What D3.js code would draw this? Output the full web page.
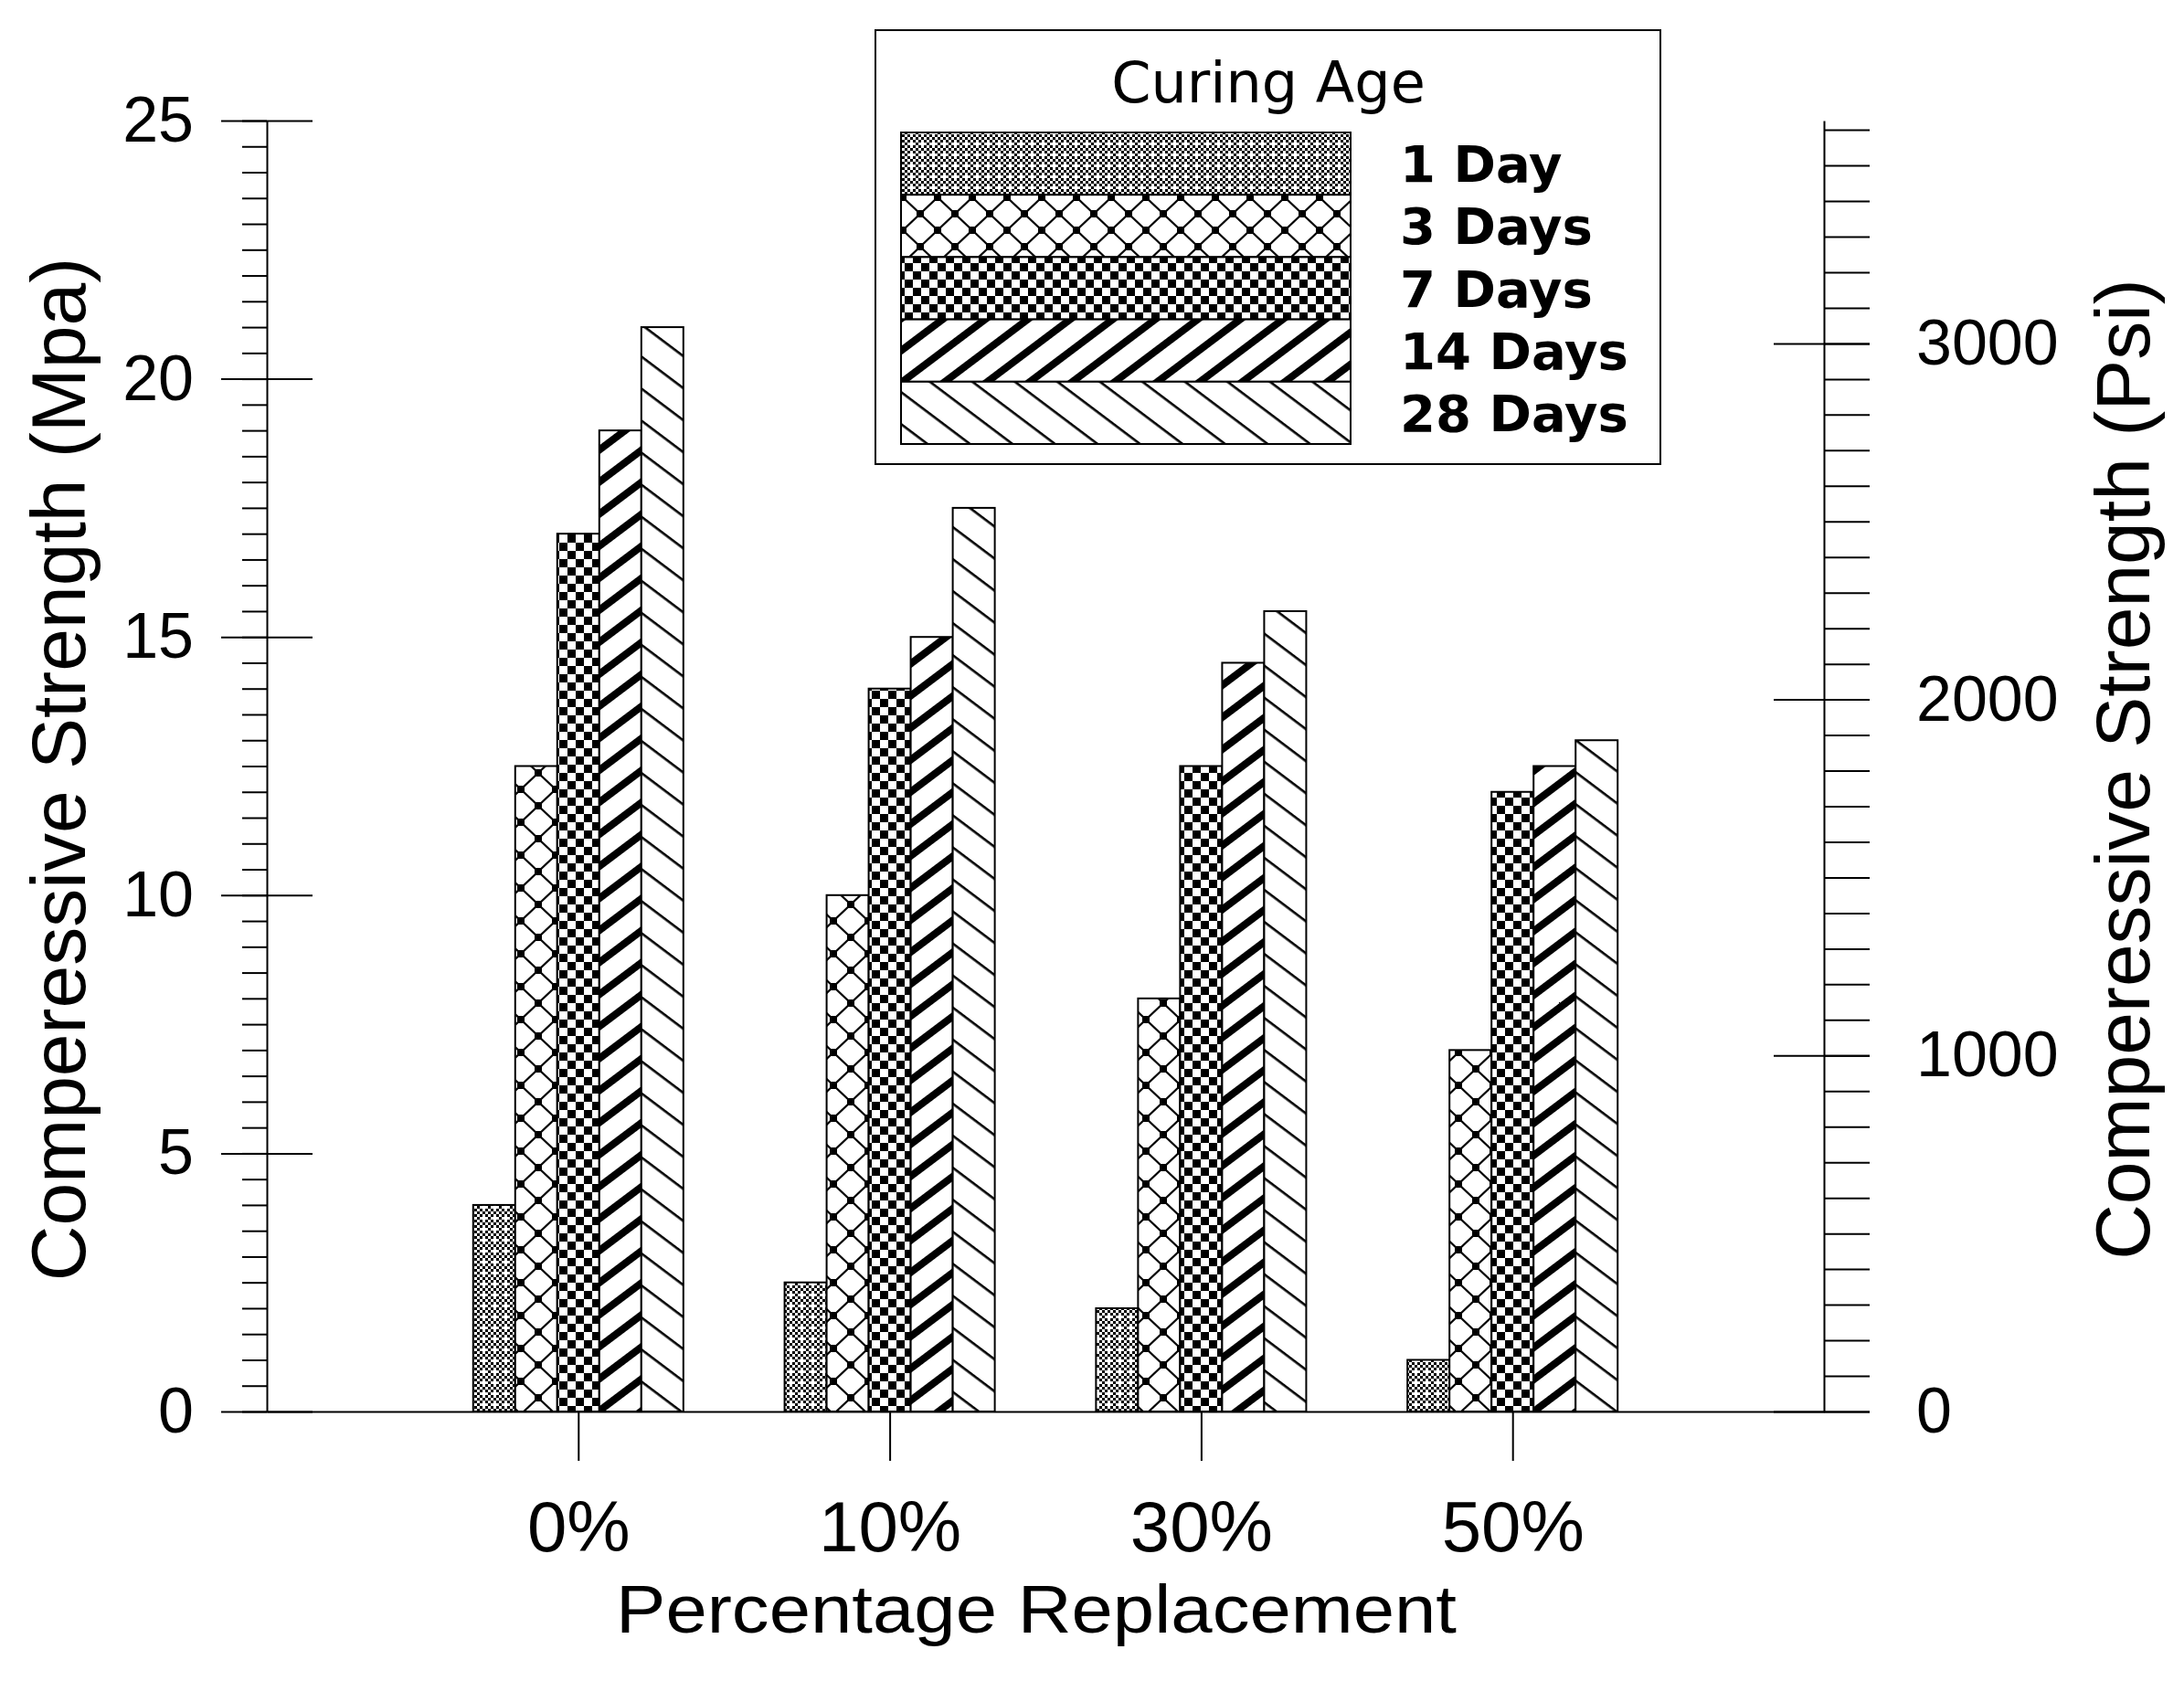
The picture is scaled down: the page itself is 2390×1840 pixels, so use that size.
<!DOCTYPE html>
<html><head><meta charset="utf-8">
<script src="https://cdn.jsdelivr.net/npm/d3@7"></script>
<style>
html,body{margin:0;padding:0;background:#fff;}
svg{display:block;}
</style></head><body>
<svg id="chart" width="2390" height="1840"></svg>
<script>
// ---- data ----
const categories = ["0%", "10%", "30%", "50%"];
const ages = ["1 Day", "3 Days", "7 Days", "14 Days", "28 Days"];
const day1  = [4, 2.5, 2, 1];
const day3  = [12.5, 10, 8, 7];
const day7  = [17, 14, 12.5, 12];
const day14 = [19, 15, 14.5, 12.5];
const day28 = [21, 17.5, 15.5, 13];
const yTicksMpa = [0, 5, 10, 15, 20, 25];
const yTicksPsi = [0, 1000, 2000, 3000];
const legendTitle = "Curing Age";
const yTitleLeft = "Comperessive Strength (Mpa)";
const yTitleRight = "Comperessive Strength (Psi)";
const xTitle = "Percentage Replacement";

// ---- setup ----
const W = 2390, H = 1840;
const ARIAL = '"Liberation Sans", Arial, sans-serif';
const DEJAVU = '"DejaVu Sans", Verdana, sans-serif';
const svg = d3.select("#chart");
svg.append("rect").attr("width", W).attr("height", H).attr("fill", "#fff");

const plot = {left: 292, right: 1996, top: 132, bottom: 1545};
const MPA_TO_PSI = 145.038;
const y = d3.scaleLinear().domain([0, 25]).range([plot.bottom, plot.top]);
const yPsi = d3.scaleLinear().domain([0, 25 * MPA_TO_PSI]).range([plot.bottom, plot.top]);
const x = d3.scalePoint().domain(categories).range([plot.left, plot.right]).padding(1);
const groupW = x.step() * 0.675;
const xs = d3.scaleBand().domain(ages).range([-groupW / 2, groupW / 2]);

// ---- patterns ----
const defs = svg.append("defs");
function pat(id, w, h, transform) {
  const p = defs.append("pattern").attr("id", id).attr("patternUnits", "userSpaceOnUse")
    .attr("width", w).attr("height", h);
  if (transform) p.attr("patternTransform", transform);
  p.append("rect").attr("width", w).attr("height", h).attr("fill", "#fff");
  return p;
}
// 1 day: fine checker with plus-shaped holes
const p1 = pat("p1", 12, 12);
for (let i = 0; i < 4; i++) for (let j = 0; j < 4; j++) {
  if ((i + j) % 2 === 0 && !(i === 0 && j === 0))
    p1.append("rect").attr("x", i * 3).attr("y", j * 3).attr("width", 3).attr("height", 3).attr("fill", "#000");
}
// 3 days: diamond lattice with squares at crossings
const p3 = pat("p3", 38, 36);
p3.append("path").attr("d", "M0,0L38,36M38,0L0,36").attr("stroke", "#000").attr("stroke-width", 2.2);
[[0,0],[38,0],[0,36],[38,36],[19,18]].forEach(([cx, cy]) =>
  p3.append("rect").attr("x", cx - 4).attr("y", cy - 4).attr("width", 8).attr("height", 8).attr("fill", "#000"));
// 7 days: checkerboard
const p7 = pat("p7", 18, 18);
p7.append("rect").attr("x", 0).attr("y", 0).attr("width", 9).attr("height", 9).attr("fill", "#000");
p7.append("rect").attr("x", 9).attr("y", 9).attr("width", 9).attr("height", 9).attr("fill", "#000");
// 14 days: thick rising stripes
const p14 = pat("p14", 20, 28, "rotate(-37)");
p14.append("rect").attr("x", 0).attr("y", 0).attr("width", 20).attr("height", 8).attr("fill", "#000");
// 28 days: thin falling lines
const p28 = pat("p28", 20, 28, "rotate(37)");
p28.append("rect").attr("x", 0).attr("y", 0).attr("width", 20).attr("height", 2.6).attr("fill", "#000");

const seriesValues = [day1, day3, day7, day14, day28];
const patternIds = ["p1", "p3", "p7", "p14", "p28"];

// ---- bars ----
const rows = [];
ages.forEach((a, si) => categories.forEach((c, ci) =>
  rows.push({age: a, cat: c, v: seriesValues[si][ci], pid: patternIds[si]})));
svg.append("g").selectAll("rect").data(rows).join("rect")
  .attr("x", d => x(d.cat) + xs(d.age))
  .attr("y", d => y(d.v))
  .attr("width", xs.bandwidth())
  .attr("height", d => y(0) - y(d.v))
  .attr("fill", d => `url(#${d.pid})`)
  .attr("stroke", "#000").attr("stroke-width", 2);

// ---- axes ----
function style(g, fs) {
  g.selectAll("path,line").attr("stroke", "#000").attr("stroke-width", 2);
  g.selectAll("text").attr("font-family", ARIAL).attr("font-size", fs).attr("fill", "#000");
}
// left
svg.append("g").attr("transform", `translate(${plot.left},0)`)
  .call(d3.axisLeft(y).tickValues(d3.range(0, 25.001, 0.5)).tickSize(27).tickSizeOuter(0).tickFormat(""))
  .call(g => style(g, 70));
svg.append("g").attr("transform", `translate(${plot.left},0)`)
  .call(d3.axisLeft(y).tickValues(yTicksMpa).tickSize(50).tickSizeOuter(0).tickPadding(30).tickFormat(d3.format("d")))
  .call(g => { g.select(".domain").remove(); style(g, 70); });
svg.append("g").attr("transform", `translate(${plot.left},0)`)
  .call(d3.axisRight(y).tickValues(yTicksMpa).tickSize(50).tickSizeOuter(0).tickFormat(""))
  .call(g => { g.select(".domain").remove(); style(g, 70); });
// right
svg.append("g").attr("transform", `translate(${plot.right},0)`)
  .call(d3.axisRight(yPsi).tickValues(d3.range(0, 3601, 100)).tickSize(50).tickSizeOuter(0).tickFormat(""))
  .call(g => style(g, 70));
svg.append("g").attr("transform", `translate(${plot.right},0)`)
  .call(d3.axisRight(yPsi).tickValues(yTicksPsi).tickSize(50).tickSizeOuter(0).tickPadding(51).tickFormat(d3.format("d")))
  .call(g => { g.select(".domain").remove(); style(g, 70); });
svg.append("g").attr("transform", `translate(${plot.right},0)`)
  .call(d3.axisLeft(yPsi).tickValues(yTicksPsi).tickSize(55).tickSizeOuter(0).tickFormat(""))
  .call(g => { g.select(".domain").remove(); style(g, 70); });
// bottom
svg.append("g").attr("transform", `translate(0,${plot.bottom})`)
  .call(d3.axisBottom(x).tickSize(54).tickSizeOuter(0).tickPadding(44))
  .call(g => style(g, 78));

// ---- titles ----
svg.append("text").attr("transform", `translate(93,842) rotate(-90)`)
  .attr("text-anchor", "middle").attr("font-family", ARIAL).attr("font-size", 84).text(yTitleLeft);
svg.append("text").attr("transform", `translate(2352,842) rotate(-90)`)
  .attr("text-anchor", "middle").attr("font-family", ARIAL).attr("font-size", 84).text(yTitleRight);
svg.append("text").attr("x", 1134).attr("y", 1787)
  .attr("text-anchor", "middle").attr("font-family", ARIAL).attr("font-size", 75)
  .attr("textLength", 920).attr("lengthAdjust", "spacingAndGlyphs").text(xTitle);

// ---- legend ----
const lg = svg.append("g");
lg.append("rect").attr("x", 958).attr("y", 33).attr("width", 859).attr("height", 475)
  .attr("fill", "#fff").attr("stroke", "#000").attr("stroke-width", 2);
lg.append("text").attr("x", 1388).attr("y", 112).attr("text-anchor", "middle")
  .attr("font-family", DEJAVU).attr("font-size", 62).text(legendTitle);
const ly = d3.scaleBand().domain(ages).range([145, 486]);
lg.selectAll("rect.sw").data(ages).join("rect").attr("class", "sw")
  .attr("x", 986).attr("y", d => ly(d)).attr("width", 492).attr("height", ly.bandwidth())
  .attr("fill", (d, i) => `url(#${patternIds[i]})`).attr("stroke", "#000").attr("stroke-width", 2);
lg.selectAll("text.lb").data(ages).join("text").attr("class", "lb")
  .attr("x", 1532).attr("y", d => ly(d) + ly.bandwidth() / 2 + 20)
  .attr("font-family", DEJAVU).attr("font-weight", "bold").attr("font-size", 56).text(d => d);
</script>
</body></html>
